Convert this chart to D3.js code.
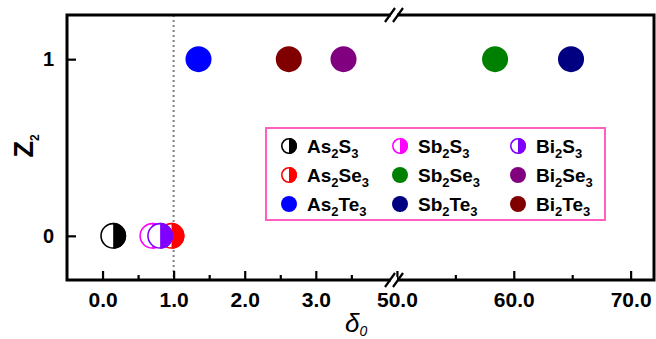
<!DOCTYPE html>
<html>
<head>
<meta charset="utf-8">
<script src="https://cdn.jsdelivr.net/npm/d3@7.9.0/dist/d3.min.js"></script>
<style>
  html, body { margin: 0; padding: 0; background: #fff; }
  svg { display: block; font-family: "Liberation Sans", Arial, sans-serif; }
</style>
</head>
<body>
<svg id="chart" width="656" height="339"></svg>
<script>
// compounds, in legend order (column by column)
const compounds = [
  ['As', '2', 'S', '3'], ['As', '2', 'Se', '3'], ['As', '2', 'Te', '3'],
  ['Sb', '2', 'S', '3'], ['Sb', '2', 'Se', '3'], ['Sb', '2', 'Te', '3'],
  ['Bi', '2', 'S', '3'], ['Bi', '2', 'Se', '3'], ['Bi', '2', 'Te', '3']
];
const delta0 = [0.15, 0.97, 1.35, 0.70, 58.4, 64.9, 0.81, 3.39, 2.62];
const z2 = [0, 0, 1, 0, 1, 1, 0, 1, 1];
const colors = ['#000000', '#ff0000', '#0000ff', '#ff00ff', '#008000', '#000080', '#8000ff', '#800080', '#800000'];
const halfFilled = [true, true, false, true, false, false, true, false, false];

const leftTicks = [0, 1, 2, 3];
const leftMinor = [0.5, 1.5, 2.5, 3.5];
const rightTicks = [50, 60, 70];
const rightMinor = [55, 65];
const yTicks = [0, 1];

const FONT = '"Liberation Sans", Arial, sans-serif';
const svg = d3.select('#chart');
const pLeft = 67, pRight = 654, pTop = 15, pBottom = 280, brk = 394;

const xL = d3.scaleLinear().domain([-0.5, 4.1]).range([pLeft, brk]);
const xR = d3.scaleLinear().domain([49.75, 72]).range([brk, pRight]);
const y = d3.scaleLinear().domain([-0.25, 1.25]).range([pBottom, pTop]);
const xPos = (d) => (d < 10 ? xL(d) : xR(d));

// dotted reference line at delta0 = 1
svg.append('line')
  .attr('x1', xL(1)).attr('x2', xL(1))
  .attr('y1', pTop).attr('y2', pBottom)
  .attr('stroke', '#808080').attr('stroke-width', 2)
  .attr('stroke-dasharray', '2,3');

// axes
function styleAxis(g, size) {
  g.select('.domain').remove();
  g.attr('font-family', null).attr('font-size', null);
  g.selectAll('.tick line').attr('stroke', '#000').attr('stroke-width', 2.2);
  g.selectAll('.tick text')
    .style('font-family', FONT)
    .style('font-size', size + 'px')
    .style('font-weight', 'bold')
    .attr('fill', '#000');
}

const fmt = d3.format('.1f');
svg.append('g').attr('transform', `translate(0,${pBottom})`)
  .call(d3.axisBottom(xL).tickValues(leftTicks).tickFormat(fmt).tickSize(-9).tickPadding(12))
  .call((g) => styleAxis(g, 21));
svg.append('g').attr('transform', `translate(0,${pBottom})`)
  .call(d3.axisBottom(xL).tickValues(leftMinor).tickFormat('').tickSize(-5))
  .call((g) => styleAxis(g, 21));
svg.append('g').attr('transform', `translate(0,${pBottom})`)
  .call(d3.axisBottom(xR).tickValues(rightTicks).tickFormat(fmt).tickSize(-9).tickPadding(12))
  .call((g) => styleAxis(g, 21));
svg.append('g').attr('transform', `translate(0,${pBottom})`)
  .call(d3.axisBottom(xR).tickValues(rightMinor).tickFormat('').tickSize(-5))
  .call((g) => styleAxis(g, 21));
svg.append('g').attr('transform', `translate(${pLeft},0)`)
  .call(d3.axisLeft(y).tickValues(yTicks).tickFormat(d3.format('d')).tickSize(-9).tickPadding(13))
  .call((g) => styleAxis(g, 20));

// frame
svg.append('rect')
  .attr('x', pLeft).attr('y', pTop)
  .attr('width', pRight - pLeft).attr('height', pBottom - pTop)
  .attr('fill', 'none').attr('stroke', '#000').attr('stroke-width', 3);

// axis break marks
[pTop, pBottom].forEach((yy) => {
  svg.append('rect').attr('x', brk - 3).attr('y', yy - 3).attr('width', 6).attr('height', 6).attr('fill', '#fff');
  [-4, 4].forEach((dx) => {
    svg.append('line')
      .attr('x1', brk + dx - 5).attr('y1', yy + 7)
      .attr('x2', brk + dx + 5).attr('y2', yy - 7)
      .attr('stroke', '#000').attr('stroke-width', 2.2);
  });
});

// markers
function marker(g, cx, cy, r, color, half) {
  if (half) {
    g.append('circle').attr('cx', cx).attr('cy', cy).attr('r', r - 0.8)
      .attr('fill', '#fff').attr('stroke', color).attr('stroke-width', 1.6);
    g.append('path')
      .attr('d', `M${cx},${cy - r}A${r},${r} 0 0 1 ${cx},${cy + r}Z`)
      .attr('fill', color);
  } else {
    g.append('circle').attr('cx', cx).attr('cy', cy).attr('r', r).attr('fill', color);
  }
}

const pts = svg.append('g');
compounds.forEach((c, i) => {
  marker(pts, xPos(delta0[i]), y(z2[i]), 13, colors[i], halfFilled[i]);
});

// legend
const lg = svg.append('g');
lg.append('rect')
  .attr('x', 266).attr('y', 128).attr('width', 339).attr('height', 92)
  .attr('fill', '#fff').attr('stroke', '#ff5fc0').attr('stroke-width', 2);
const colX = [289, 400, 518];
const rowY = [146, 175, 204];
compounds.forEach((c, i) => {
  const cx = colX[Math.floor(i / 3)], cy = rowY[i % 3];
  marker(lg, cx, cy, 8, colors[i], halfFilled[i]);
  const t = lg.append('text')
    .attr('x', cx + 18).attr('y', cy + 7)
    .attr('font-size', 19).attr('font-weight', 'bold');
  t.append('tspan').text(c[0]);
  t.append('tspan').attr('font-size', 13).attr('dy', 5).text(c[1]);
  t.append('tspan').attr('dy', -5).text(c[2]);
  t.append('tspan').attr('font-size', 13).attr('dy', 5).text(c[3]);
});

// axis titles
const xt = svg.append('text')
  .attr('x', 345).attr('y', 332)
  .attr('font-size', 26).attr('font-style', 'italic');
xt.append('tspan').text('δ');
xt.append('tspan').attr('font-size', 14).attr('dy', 4).text('0');

const yt = svg.append('text')
  .attr('transform', 'translate(33,146) rotate(-90)')
  .attr('text-anchor', 'middle')
  .attr('font-size', 27).attr('font-weight', 'bold');
yt.append('tspan').text('Z');
yt.append('tspan').attr('font-size', 12).attr('dy', 6).text('2');
</script>
</body>
</html>
